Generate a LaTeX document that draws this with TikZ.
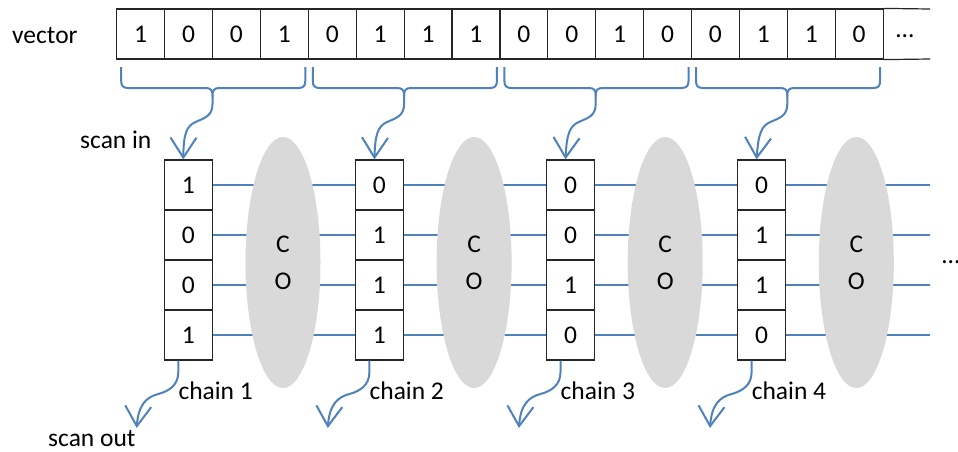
\documentclass[tikz,border=0pt]{standalone}
\usepackage{fontspec}
\setmainfont{Carlito}
\usetikzlibrary{arrows.meta,shapes.geometric,calc}
\definecolor{lineblue}{HTML}{4F81BD}
\definecolor{cogray}{HTML}{D9D9D9}
\begin{document}
\begin{tikzpicture}[x=1pt,y=-1pt,
  every node/.style={font=\fontsize{25.5}{30}\selectfont, inner sep=0pt},
  cell/.style={draw=black!85, line width=1.2pt, minimum width=47.9pt, minimum height=50pt},
  regbox/.style={draw=black!85, line width=1.2pt, minimum width=48pt, minimum height=50pt},
  co/.style={ellipse, fill=cogray, minimum width=75pt, minimum height=251pt, align=center, font=\fontsize{25.5}{37}\selectfont},
  wire/.style={draw=lineblue, line width=2pt},
  flow/.style={draw=lineblue, line width=2pt, -{Straight Barb[length=20pt,width=26pt]}},
  lbl/.style={anchor=base west}
]
\useasboundingbox (0,0) rectangle (958,451);

% vector
\node[lbl] (vlab) at (12,43) {vector};
\foreach \k/\b in {1/1,2/0,3/0,4/1,5/0,6/1,7/1,8/1,9/0,10/0,11/1,12/0,13/0,14/1,15/1,16/0}
  \node[cell] (v\k) at ({116.7+(\k-0.5)*47.9},34) {\b};
\coordinate (dtop) at (930,9);
\coordinate (dbot) at (930,59);
\draw[black!85, line width=1.2pt] (v16.north east) -- (dtop);
\draw[black!85, line width=1.2pt] (v16.south east) -- (dbot);
\node (vdots) at (905,36) {…};

% chains
\foreach \i/\a/\b/\c/\d in {0/1/0/0/1, 1/0/1/1/1, 2/0/0/1/0, 3/0/1/1/0} {
  \pgfmathsetmacro\bx{164.3+\i*191.1}
  \node[regbox] (c\i-1) at ({\bx+24},185) {\a};
  \node[regbox] (c\i-2) at ({\bx+24},235) {\b};
  \node[regbox] (c\i-3) at ({\bx+24},285) {\c};
  \node[regbox] (c\i-4) at ({\bx+24},335) {\d};
}

% wires
\foreach \i [evaluate=\i as \n using int(\i+1)] in {0,1,2}
  \foreach \j in {1,2,3,4}
    \draw[wire] (c\i-\j.east) -- (c\n-\j.west);
\foreach \j in {1,2,3,4} {
  \coordinate (e\j) at (930,{135+50*\j});
  \draw[wire] (c3-\j.east) -- (e\j);
}

% combinational ellipses
\foreach \i in {0,1,2,3} {
  \pgfmathsetmacro\bx{164.3+\i*191.1}
  \node[co] (co\i) at ({\bx+118.7},262.5) {C\\O};
}
\node[anchor=west] (rdots) at (942,262) {…};

% braces and scan-in arrows
\foreach \g in {0,1,2,3} {
  \pgfmathsetmacro\xs{116.7+191.6*\g}
  \pgfmathsetmacro\xa{\xs+4.5}
  \pgfmathsetmacro\xb{\xs+188.6}
  \pgfmathsetmacro\xm{\xs+95.8}
  \coordinate (bl\g) at (\xa,67);
  \coordinate (br\g) at (\xb,67);
  \coordinate (m\g) at (\xm,95);
  \draw[wire] (bl\g) -- (\xa,81) .. controls (\xa,86) and ({\xa+2},88) .. ({\xa+7},88)
     -- ({\xm-7},88) .. controls ({\xm-2},88) and (\xm,90) .. (m\g)
     .. controls (\xm,90) and ({\xm+2},88) .. ({\xm+7},88)
     -- ({\xb-7},88) .. controls ({\xb-2},88) and (\xb,86) .. (\xb,81) -- (br\g);
  \draw[flow] (m\g) -- (\xm,104) .. controls (\xm,116) and ({\xm-8},118) .. ({\xm-17},122)
     .. controls ({\xm-26},126) and ({\xm-29},134) .. ($(c\g-1.north)+(-5,0)$);
}

% scan-out arrows and labels
\foreach \i/\n in {0/1,1/2,2/3,3/4} {
  \pgfmathsetmacro\bx{164.3+\i*191.1}
  \coordinate (so\i) at ({\bx-27.6},428);
  \draw[flow] ($(c\i-4.south)+(-10,0)$) -- ({\bx+14},372)
     .. controls ({\bx+14},385) and ({\bx+5},391) .. ({\bx-6},394)
     .. controls ({\bx-18},397) and ({\bx-26},405) .. (so\i);
  \node[lbl] (ch\i) at ({\bx+14},399) {chain \n};
}

\node[lbl] (scin) at (80,148) {scan in};
\node[lbl] (scout) at (48,446.5) {scan out};
\end{tikzpicture}
\end{document}
